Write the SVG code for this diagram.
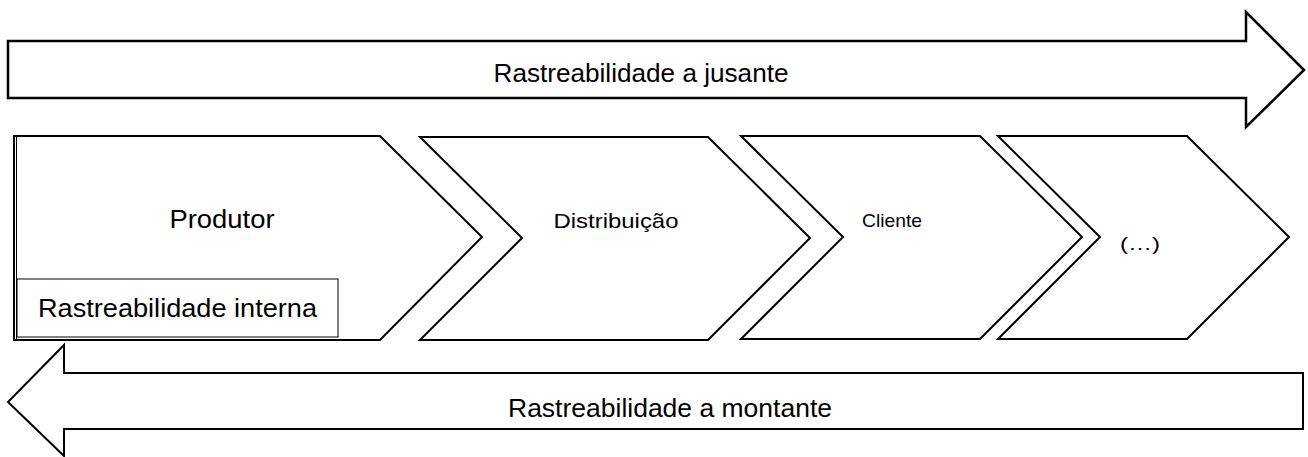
<svg xmlns="http://www.w3.org/2000/svg" width="1308" height="457" viewBox="0 0 1308 457">
<style>
.shape{fill:#fff;stroke:#000;stroke-width:2;stroke-linejoin:miter}
.big{stroke-width:2.5}
.thin{fill:#fff;stroke:#000;stroke-width:1}
text{font-family:"Liberation Sans",Arial,sans-serif;fill:#000}
.l{font-size:25px}
.s{font-size:19px}
.m{font-size:21px}
</style>
<rect width="1308" height="457" fill="#fff"/>
<g id="arrow-jusante">
<polygon class="shape big" points="8,41 1246,41 1246,12 1304,70 1246,127 1246,98 8,98"/>
<text class="l" x="641" y="82" text-anchor="middle" textLength="295" lengthAdjust="spacingAndGlyphs">Rastreabilidade a jusante</text>
</g>
<g id="node-produtor">
<polygon class="shape" points="14,136 380,136 482,237 380,340 14,340"/>
<line x1="16.5" y1="137" x2="16.5" y2="339" stroke="#000" stroke-width="1"/>
<text class="l" x="222" y="228" text-anchor="middle" textLength="105" lengthAdjust="spacingAndGlyphs">Produtor</text>
</g>
<g id="node-distribuicao">
<polygon class="shape" points="420,137 708,137 810,238 708,340 420,340 522,238"/>
<text class="m" x="616" y="228" text-anchor="middle" textLength="125" lengthAdjust="spacingAndGlyphs">Distribuição</text>
</g>
<g id="node-cliente">
<polygon class="shape" points="741,136 980,136 1082,237 980,339 741,339 843,237"/>
<text class="s" x="892" y="227" text-anchor="middle" textLength="60" lengthAdjust="spacingAndGlyphs">Cliente</text>
</g>
<g id="node-etc">
<polygon class="shape" points="998,136 1187,136 1289,237 1187,339 998,339 1100,237"/>
<text class="s" x="1140" y="250" text-anchor="middle" textLength="40" lengthAdjust="spacingAndGlyphs">(…)</text>
</g>
<g id="node-interna">
<rect class="thin" x="17" y="279" width="321" height="58"/>
<text class="l" x="177.5" y="317" text-anchor="middle" textLength="279" lengthAdjust="spacingAndGlyphs">Rastreabilidade interna</text>
</g>
<g id="arrow-montante">
<polygon class="shape" points="1303,373 64,373 64,345 8,402 64,456 64,429 1303,429"/>
<text class="l" x="670" y="417" text-anchor="middle" textLength="324" lengthAdjust="spacingAndGlyphs">Rastreabilidade a montante</text>
</g>
</svg>
